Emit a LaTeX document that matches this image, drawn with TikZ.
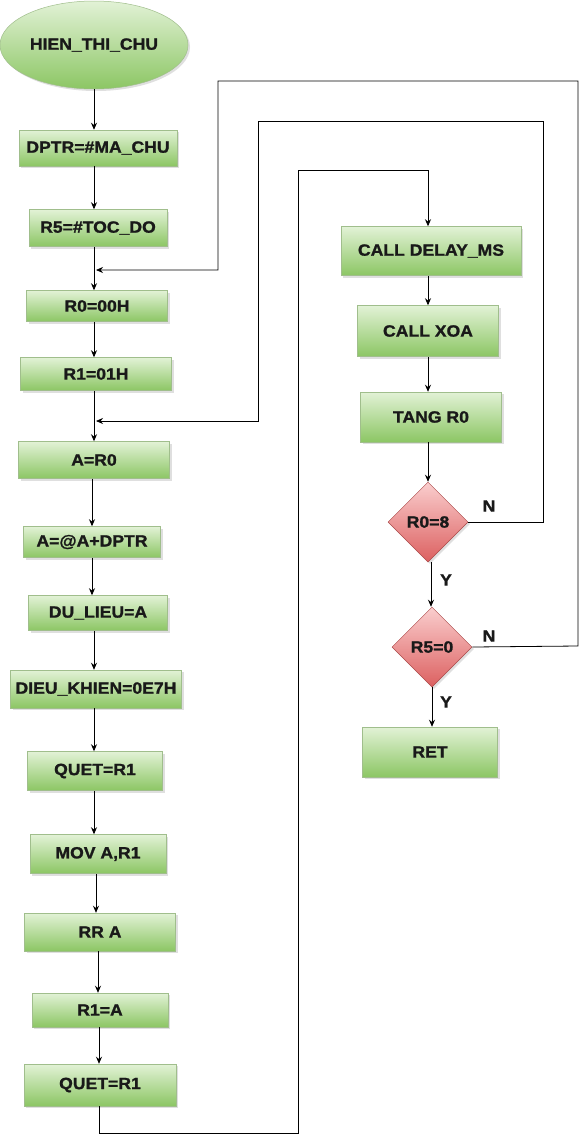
\documentclass[tikz,border=0pt]{standalone}
\usepackage{fontspec}
\setmainfont{Liberation Sans}[FakeStretch=1.08, BoldFeatures={FakeBold=1.3}]
\usetikzlibrary{shapes.geometric,shadows,arrows.meta}
\definecolor{gtop}{RGB}{226,242,214}
\definecolor{gbot}{RGB}{140,198,100}
\definecolor{gdraw}{RGB}{160,190,140}
\definecolor{rtop}{RGB}{250,206,206}
\definecolor{rbot}{RGB}{220,96,96}
\definecolor{rdraw}{RGB}{170,70,70}
\begin{document}
\begin{tikzpicture}[x=1pt,y=-1pt,
  txt/.style={font=\fontsize{16.3}{19}\selectfont\bfseries, text=black!90},
  box/.style={rectangle, txt, draw=gdraw, line width=0.5pt, top color=gtop, bottom color=gbot, inner sep=0pt,
    drop shadow={shadow xshift=2pt, shadow yshift=-2pt, opacity=0.25}},
  term/.style={ellipse, txt, draw=gdraw, line width=0.5pt, top color=gtop, bottom color=gbot, inner sep=0pt,
    drop shadow={shadow xshift=2pt, shadow yshift=-2pt, opacity=0.25}},
  dec/.style={diamond, txt, draw=rdraw, line width=0.5pt, top color=rtop, bottom color=rbot, inner sep=0pt, aspect=1,
    drop shadow={shadow xshift=2pt, shadow yshift=-2pt, opacity=0.25}},
  arr/.style={draw=black, line width=0.8pt, -{Stealth[length=7pt,width=6pt]}},
  lbl/.style={txt}
]
\fill[white] (0,0) rectangle (583,1138);
\useasboundingbox (0,0) rectangle (583,1138);

% left column
\node[term, minimum width=188, minimum height=88] (e) at (94,45) {HIEN\_THI\_CHU};
\node[box, minimum width=158, minimum height=36] (n1) at (98,148) {DPTR=\#MA\_CHU};
\node[box, minimum width=138, minimum height=37] (n2) at (98,228) {R5=\#TOC\_DO};
\node[box, minimum width=141, minimum height=31] (n3) at (97,306) {R0=00H};
\node[box, minimum width=151, minimum height=33] (n4) at (96,374) {R1=01H};
\node[box, minimum width=151, minimum height=37] (n5) at (94,460) {A=R0};
\node[box, minimum width=137, minimum height=31] (n6) at (92,542) {A=@A+DPTR};
\node[box, minimum width=139, minimum height=35] (n7) at (98,613) {DU\_LIEU=A};
\node[box, minimum width=171, minimum height=38] (n8) at (96,689) {DIEU\_KHIEN=0E7H};
\node[box, minimum width=135, minimum height=39] (n9) at (95,771) {QUET=R1};
\node[box, minimum width=136, minimum height=39] (n10) at (98,854) {MOV A,R1};
\node[box, minimum width=151, minimum height=38] (n11) at (100,932) {RR A};
\node[box, minimum width=136, minimum height=34] (n12) at (100,1010) {R1=A};
\node[box, minimum width=152, minimum height=42] (n13) at (100,1085) {QUET=R1};

% right column
\node[box, minimum width=180, minimum height=49] (c1) at (431,251) {CALL DELAY\_MS};
\node[box, minimum width=141, minimum height=51] (c2) at (428,331) {CALL XOA};
\node[box, minimum width=141, minimum height=50] (c3) at (431,417) {TANG R0};
\node[dec, minimum width=80, minimum height=80] (d1) at (428,522) {R0=8};
\node[dec, minimum width=80, minimum height=80] (d2) at (432,647) {R5=0};
\node[box, minimum width=135, minimum height=50] (c4) at (430,752) {RET};

% junction points
\coordinate (j1) at (96,270);
\coordinate (j2) at (96,421);

% main column arrows
\draw[arr] (e.south) -- (e.south |- n1.north);
\draw[arr] (n1.south -| e.south) -- (e.south |- n2.north);
\draw[arr] (n2.south -| e.south) -- (e.south |- n3.north);
\draw[arr] (n3.south -| e.south) -- (e.south |- n4.north);
\draw[arr] (n4.south -| e.south) -- (e.south |- n5.north);
\draw[arr] (n5.south -| n6) -- (n6.north);
\draw[arr] (n6.south -| n6) -- (n6 |- n7.north);
\draw[arr] (n7.south -| e.south) -- (e.south |- n8.north);
\draw[arr] (n8.south -| e.south) -- (e.south |- n9.north);
\draw[arr] (n9.south -| e.south) -- (e.south |- n10.north);
\draw[arr] (n10.south -| 96,0) -- (96,0 |- n11.north);
\draw[arr] (n11.south -| n10) -- (n10 |- n12.north);
\draw[arr] (n12.south -| 99,0) -- (99,0 |- n13.north);

% loop from bottom to CALL DELAY_MS
\draw[arr] (n13.south -| 99,0) |- (298,1133) -- (298,170) -| (c1.north -| 428,0);

% right column arrows
\draw[arr] (c1.south -| c2) -- (c2.north);
\draw[arr] (c2.south) -- (c3.north -| c2);
\draw[arr] (c3.south -| c2) -- (d1.north);
\draw[arr] (d1.south -| 431,0) -- (d2.north -| 431,0);
\draw[arr] (d2.south) -- (c4.north -| d2);

% N loops
\draw[arr] (d1.east) -- (543,522) -- (543,121) -- (258,121) -- (258,421) -- (j2);
\draw[arr] (d2.east) -- (578,646) -- (578,81) -- (218,81) -- (218,270) -- (j1);

% labels
\node[lbl] (ln1) at (489,506) {N};
\node[lbl] (ln2) at (489,636) {N};
\node[lbl] (ly1) at (446,580) {Y};
\node[lbl] (ly2) at (446,702) {Y};
\end{tikzpicture}
\end{document}
